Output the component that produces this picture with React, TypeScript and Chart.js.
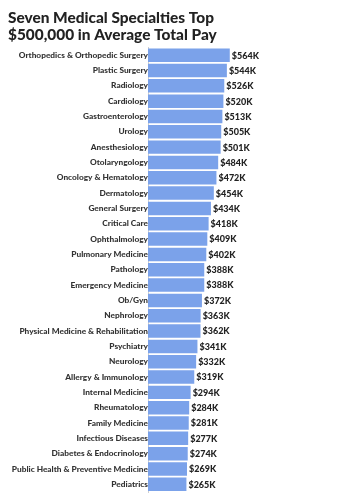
import React, { useEffect, useRef } from "react";
import { Chart, registerables } from "chart.js";

Chart.register(...registerables);

const categories = [
  "Orthopedics & Orthopedic Surgery",
  "Plastic Surgery",
  "Radiology",
  "Cardiology",
  "Gastroenterology",
  "Urology",
  "Anesthesiology",
  "Otolaryngology",
  "Oncology & Hematology",
  "Dermatology",
  "General Surgery",
  "Critical Care",
  "Ophthalmology",
  "Pulmonary Medicine",
  "Pathology",
  "Emergency Medicine",
  "Ob/Gyn",
  "Nephrology",
  "Physical Medicine & Rehabilitation",
  "Psychiatry",
  "Neurology",
  "Allergy & Immunology",
  "Internal Medicine",
  "Rheumatology",
  "Family Medicine",
  "Infectious Diseases",
  "Diabetes & Endocrinology",
  "Public Health & Preventive Medicine",
  "Pediatrics",
];

const payK = [
  564, 544, 526, 520, 513, 505, 501, 484, 472, 454, 434, 418, 409, 402, 388,
  388, 372, 363, 362, 341, 332, 319, 294, 284, 281, 277, 274, 269, 265,
];

const titleLines = ["Seven Medical Specialties Top", "$500,000 in Average Total Pay"];

const valueLabels = {
  id: "valueLabels",
  afterDatasetsDraw(chart: any) {
    const ctx = chart.ctx;
    const meta = chart.getDatasetMeta(0);
    ctx.save();
    ctx.font = "900 9px Lato";
    ctx.fillStyle = "#222";
    ctx.textAlign = "left";
    ctx.textBaseline = "middle";
    meta.data.forEach((el: any, i: number) => {
      ctx.fillText("$" + payK[i] + "K", el.x + 2, el.y + 0.5);
    });
    ctx.restore();
  },
};

export default function App() {
  const ref = useRef<HTMLCanvasElement | null>(null);
  useEffect(() => {
    if (!ref.current) return;
    const chart = new Chart(ref.current, {
      type: "bar",
      data: {
        labels: categories,
        datasets: [
          {
            data: payK,
            backgroundColor: "#7BA2EA",
            borderWidth: 0,
            barPercentage: 0.88,
            categoryPercentage: 1,
          },
        ],
      },
      options: {
        indexAxis: "y",
        animation: false,
        responsive: false,
        layout: { padding: { left: 8, right: 125, top: 9, bottom: 7 } },
        plugins: {
          legend: { display: false },
          tooltip: { enabled: false },
          title: {
            display: true,
            text: titleLines,
            align: "start",
            color: "#222",
            font: { family: "Lato", size: 15.4, weight: "900", lineHeight: 1.12 },
            padding: { top: 0, bottom: 4 },
          },
        },
        scales: {
          x: {
            display: false,
            min: 0,
            max: 600,
          },
          y: {
            afterFit: (scale: any) => {
              scale.width = 140;
            },
            grid: { display: false, drawTicks: false },
            border: { display: true, color: "#cfcfcf", width: 1 },
            ticks: {
              color: "#333",
              padding: 0,
              autoSkip: false,
              font: { family: "Lato", size: 8.3, weight: "900" },
            },
          },
        },
      },
      plugins: [valueLabels],
    });
    return () => chart.destroy();
  }, []);
  return (
    <div style={{ position: "fixed", left: 0, top: 0, width: 360, height: 499, background: "#fff" }}>
      <canvas ref={ref} width={360} height={499} style={{ width: 360, height: 499 }} />
    </div>
  );
}
